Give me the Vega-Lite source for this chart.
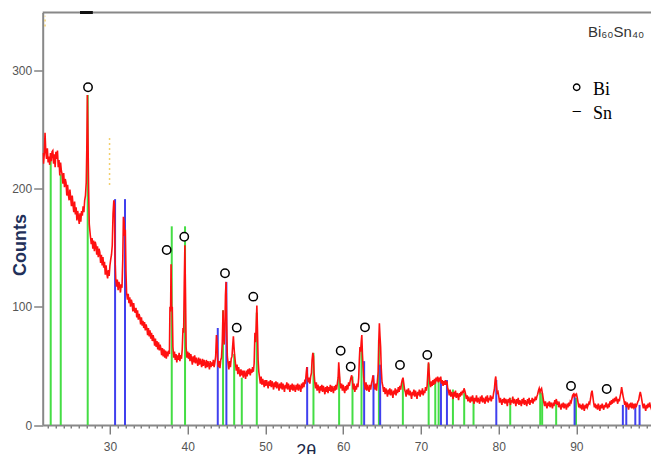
{
"$schema": "https://vega.github.io/schema/vega-lite/v6.json",
"width": 608.3,
"height": 412.5,
"autosize": {"type": "none"},
"padding": {"left": 42.7, "top": 12.5, "right": 0, "bottom": 29},
"config": {"view": {"stroke": null}, "font": "Liberation Sans"},
"datasets": {
"xrd": [
{"t":21.35,"c":230},{"t":21.45,"c":221},{"t":21.55,"c":229},{"t":21.65,"c":247},{"t":21.75,"c":231},{"t":21.85,"c":225},{"t":21.95,"c":234},{"t":22.05,"c":222},{"t":22.15,"c":227},{"t":22.25,"c":220},{"t":22.35,"c":230},{"t":22.45,"c":223},{"t":22.55,"c":231},{"t":22.65,"c":232},{"t":22.75,"c":221},{"t":22.85,"c":229},{"t":22.95,"c":218},{"t":23.05,"c":231},{"t":23.15,"c":225},{"t":23.25,"c":232},{"t":23.35,"c":218},{"t":23.45,"c":224},{"t":23.55,"c":211},{"t":23.65,"c":222},{"t":23.75,"c":215},{"t":23.85,"c":212},{"t":23.95,"c":204},{"t":24.05,"c":213},{"t":24.15,"c":201},{"t":24.25,"c":208},{"t":24.35,"c":205},{"t":24.45,"c":194},{"t":24.55,"c":203},{"t":24.65,"c":195},{"t":24.75,"c":190},{"t":24.85,"c":199},{"t":24.95,"c":192},{"t":25.05,"c":185},{"t":25.15,"c":194},{"t":25.25,"c":186},{"t":25.35,"c":180},{"t":25.45,"c":189},{"t":25.55,"c":178},{"t":25.65,"c":184},{"t":25.75,"c":173},{"t":25.85,"c":181},{"t":25.95,"c":176},{"t":26.05,"c":170},{"t":26.15,"c":179},{"t":26.25,"c":172},{"t":26.35,"c":181},{"t":26.45,"c":177},{"t":26.55,"c":185},{"t":26.65,"c":180},{"t":26.75,"c":190},{"t":26.85,"c":194},{"t":26.95,"c":205},{"t":27.02,"c":232},{"t":27.1,"c":279},{"t":27.18,"c":240},{"t":27.26,"c":199},{"t":27.34,"c":170},{"t":27.42,"c":164},{"t":27.5,"c":159},{"t":27.6,"c":153},{"t":27.7,"c":158},{"t":27.8,"c":149},{"t":27.9,"c":156},{"t":28.0,"c":147},{"t":28.1,"c":155},{"t":28.2,"c":152},{"t":28.3,"c":144},{"t":28.4,"c":151},{"t":28.5,"c":142},{"t":28.6,"c":149},{"t":28.7,"c":146},{"t":28.8,"c":137},{"t":28.9,"c":144},{"t":29.0,"c":135},{"t":29.1,"c":142},{"t":29.2,"c":133},{"t":29.3,"c":138},{"t":29.4,"c":127},{"t":29.5,"c":135},{"t":29.6,"c":128},{"t":29.7,"c":124},{"t":29.8,"c":131},{"t":29.9,"c":126},{"t":30.0,"c":135},{"t":30.1,"c":140},{"t":30.2,"c":144},{"t":30.3,"c":152},{"t":30.4,"c":179},{"t":30.5,"c":190},{"t":30.58,"c":186},{"t":30.66,"c":140},{"t":30.74,"c":124},{"t":30.85,"c":117},{"t":30.95,"c":123},{"t":31.05,"c":114},{"t":31.15,"c":121},{"t":31.25,"c":118},{"t":31.35,"c":112},{"t":31.45,"c":119},{"t":31.55,"c":116},{"t":31.65,"c":140},{"t":31.73,"c":176},{"t":31.82,"c":172},{"t":31.9,"c":160},{"t":31.98,"c":165},{"t":32.06,"c":130},{"t":32.14,"c":112},{"t":32.25,"c":106},{"t":32.35,"c":111},{"t":32.45,"c":103},{"t":32.55,"c":108},{"t":32.65,"c":100},{"t":32.75,"c":106},{"t":32.85,"c":103},{"t":32.95,"c":96},{"t":33.05,"c":103},{"t":33.15,"c":97},{"t":33.25,"c":95},{"t":33.35,"c":99},{"t":33.45,"c":91},{"t":33.55,"c":97},{"t":33.65,"c":89},{"t":33.75,"c":94},{"t":33.85,"c":91},{"t":33.95,"c":85},{"t":34.05,"c":91},{"t":34.15,"c":84},{"t":34.25,"c":88},{"t":34.35,"c":82},{"t":34.45,"c":87},{"t":34.55,"c":80},{"t":34.65,"c":85},{"t":34.75,"c":82},{"t":34.85,"c":76},{"t":34.95,"c":82},{"t":35.05,"c":75},{"t":35.15,"c":80},{"t":35.25,"c":73},{"t":35.35,"c":78},{"t":35.45,"c":71},{"t":35.55,"c":76},{"t":35.65,"c":73},{"t":35.75,"c":67},{"t":35.85,"c":73},{"t":35.95,"c":66},{"t":36.05,"c":71},{"t":36.15,"c":64},{"t":36.25,"c":70},{"t":36.35,"c":63},{"t":36.45,"c":68},{"t":36.55,"c":65},{"t":36.65,"c":59},{"t":36.75,"c":65},{"t":36.85,"c":58},{"t":36.95,"c":64},{"t":37.05,"c":57},{"t":37.15,"c":63},{"t":37.25,"c":56},{"t":37.35,"c":62},{"t":37.45,"c":58},{"t":37.55,"c":63},{"t":37.65,"c":60},{"t":37.72,"c":100},{"t":37.8,"c":96},{"t":37.86,"c":136},{"t":37.94,"c":98},{"t":38.02,"c":100},{"t":38.1,"c":66},{"t":38.2,"c":57},{"t":38.3,"c":62},{"t":38.4,"c":55},{"t":38.5,"c":60},{"t":38.6,"c":53},{"t":38.7,"c":59},{"t":38.8,"c":55},{"t":38.9,"c":61},{"t":39.0,"c":54},{"t":39.1,"c":59},{"t":39.2,"c":56},{"t":39.3,"c":64},{"t":39.4,"c":82},{"t":39.48,"c":78},{"t":39.56,"c":120},{"t":39.64,"c":152},{"t":39.72,"c":110},{"t":39.8,"c":66},{"t":39.9,"c":57},{"t":40.0,"c":62},{"t":40.1,"c":56},{"t":40.2,"c":61},{"t":40.3,"c":54},{"t":40.4,"c":60},{"t":40.5,"c":56},{"t":40.6,"c":51},{"t":40.7,"c":58},{"t":40.8,"c":53},{"t":40.9,"c":59},{"t":41.0,"c":52},{"t":41.1,"c":57},{"t":41.2,"c":54},{"t":41.3,"c":50},{"t":41.4,"c":57},{"t":41.5,"c":51},{"t":41.6,"c":56},{"t":41.7,"c":53},{"t":41.8,"c":49},{"t":41.9,"c":56},{"t":42.0,"c":50},{"t":42.1,"c":55},{"t":42.2,"c":52},{"t":42.3,"c":48},{"t":42.4,"c":55},{"t":42.5,"c":49},{"t":42.6,"c":54},{"t":42.7,"c":51},{"t":42.8,"c":47},{"t":42.9,"c":54},{"t":43.0,"c":49},{"t":43.1,"c":53},{"t":43.2,"c":50},{"t":43.3,"c":55},{"t":43.4,"c":49},{"t":43.5,"c":53},{"t":43.6,"c":58},{"t":43.7,"c":76},{"t":43.78,"c":70},{"t":43.86,"c":55},{"t":43.95,"c":49},{"t":44.05,"c":54},{"t":44.15,"c":48},{"t":44.25,"c":55},{"t":44.35,"c":57},{"t":44.45,"c":70},{"t":44.55,"c":97},{"t":44.63,"c":75},{"t":44.7,"c":68},{"t":44.78,"c":80},{"t":44.86,"c":110},{"t":44.94,"c":121},{"t":45.02,"c":85},{"t":45.1,"c":58},{"t":45.2,"c":52},{"t":45.3,"c":47},{"t":45.4,"c":54},{"t":45.5,"c":49},{"t":45.6,"c":56},{"t":45.7,"c":58},{"t":45.8,"c":68},{"t":45.88,"c":75},{"t":45.96,"c":66},{"t":46.05,"c":58},{"t":46.15,"c":52},{"t":46.25,"c":46},{"t":46.35,"c":51},{"t":46.45,"c":43},{"t":46.55,"c":49},{"t":46.65,"c":45},{"t":46.75,"c":41},{"t":46.85,"c":47},{"t":46.95,"c":42},{"t":47.05,"c":46},{"t":47.15,"c":40},{"t":47.25,"c":46},{"t":47.35,"c":43},{"t":47.45,"c":39},{"t":47.55,"c":46},{"t":47.65,"c":41},{"t":47.75,"c":47},{"t":47.85,"c":43},{"t":47.95,"c":48},{"t":48.05,"c":42},{"t":48.15,"c":47},{"t":48.25,"c":44},{"t":48.35,"c":49},{"t":48.45,"c":45},{"t":48.55,"c":52},{"t":48.65,"c":78},{"t":48.74,"c":70},{"t":48.82,"c":86},{"t":48.9,"c":101},{"t":48.98,"c":80},{"t":49.06,"c":55},{"t":49.15,"c":45},{"t":49.25,"c":40},{"t":49.35,"c":35},{"t":49.45,"c":41},{"t":49.55,"c":34},{"t":49.65,"c":39},{"t":49.75,"c":36},{"t":49.85,"c":32},{"t":49.95,"c":38},{"t":50.05,"c":33},{"t":50.15,"c":38},{"t":50.25,"c":35},{"t":50.35,"c":31},{"t":50.45,"c":37},{"t":50.55,"c":33},{"t":50.65,"c":38},{"t":50.75,"c":32},{"t":50.85,"c":37},{"t":50.95,"c":34},{"t":51.05,"c":30},{"t":51.15,"c":36},{"t":51.25,"c":32},{"t":51.35,"c":37},{"t":51.45,"c":31},{"t":51.55,"c":36},{"t":51.65,"c":33},{"t":51.75,"c":29},{"t":51.85,"c":35},{"t":51.95,"c":31},{"t":52.05,"c":36},{"t":52.15,"c":30},{"t":52.25,"c":35},{"t":52.35,"c":32},{"t":52.45,"c":28},{"t":52.55,"c":34},{"t":52.65,"c":31},{"t":52.75,"c":36},{"t":52.85,"c":30},{"t":52.95,"c":35},{"t":53.05,"c":32},{"t":53.15,"c":28},{"t":53.25,"c":34},{"t":53.35,"c":30},{"t":53.45,"c":35},{"t":53.55,"c":29},{"t":53.65,"c":34},{"t":53.75,"c":31},{"t":53.85,"c":28},{"t":53.95,"c":34},{"t":54.05,"c":30},{"t":54.15,"c":35},{"t":54.25,"c":29},{"t":54.35,"c":34},{"t":54.45,"c":32},{"t":54.55,"c":28},{"t":54.65,"c":35},{"t":54.75,"c":31},{"t":54.85,"c":36},{"t":54.95,"c":32},{"t":55.05,"c":37},{"t":55.15,"c":36},{"t":55.25,"c":44},{"t":55.33,"c":49},{"t":55.42,"c":40},{"t":55.52,"c":36},{"t":55.62,"c":40},{"t":55.72,"c":35},{"t":55.82,"c":41},{"t":55.92,"c":44},{"t":56.0,"c":55},{"t":56.1,"c":61},{"t":56.18,"c":58},{"t":56.26,"c":44},{"t":56.35,"c":36},{"t":56.45,"c":31},{"t":56.55,"c":36},{"t":56.65,"c":29},{"t":56.75,"c":34},{"t":56.85,"c":31},{"t":56.95,"c":27},{"t":57.05,"c":33},{"t":57.15,"c":29},{"t":57.25,"c":34},{"t":57.35,"c":28},{"t":57.45,"c":33},{"t":57.55,"c":30},{"t":57.65,"c":26},{"t":57.75,"c":32},{"t":57.85,"c":28},{"t":57.95,"c":33},{"t":58.05,"c":27},{"t":58.15,"c":32},{"t":58.25,"c":29},{"t":58.35,"c":34},{"t":58.45,"c":28},{"t":58.55,"c":33},{"t":58.65,"c":30},{"t":58.75,"c":27},{"t":58.85,"c":33},{"t":58.95,"c":29},{"t":59.05,"c":34},{"t":59.15,"c":30},{"t":59.25,"c":35},{"t":59.35,"c":40},{"t":59.43,"c":53},{"t":59.52,"c":44},{"t":59.6,"c":36},{"t":59.7,"c":31},{"t":59.8,"c":35},{"t":59.9,"c":29},{"t":60.0,"c":34},{"t":60.1,"c":30},{"t":60.2,"c":27},{"t":60.3,"c":33},{"t":60.4,"c":29},{"t":60.5,"c":34},{"t":60.6,"c":30},{"t":60.7,"c":36},{"t":60.8,"c":33},{"t":60.9,"c":37},{"t":61.0,"c":40},{"t":61.1,"c":42},{"t":61.2,"c":37},{"t":61.3,"c":30},{"t":61.4,"c":35},{"t":61.5,"c":28},{"t":61.6,"c":33},{"t":61.7,"c":30},{"t":61.8,"c":35},{"t":61.9,"c":32},{"t":62.0,"c":40},{"t":62.08,"c":55},{"t":62.16,"c":66},{"t":62.24,"c":62},{"t":62.32,"c":70},{"t":62.4,"c":76},{"t":62.48,"c":60},{"t":62.56,"c":49},{"t":62.64,"c":40},{"t":62.74,"c":35},{"t":62.84,"c":30},{"t":62.94,"c":36},{"t":63.04,"c":29},{"t":63.14,"c":34},{"t":63.24,"c":31},{"t":63.34,"c":28},{"t":63.44,"c":34},{"t":63.54,"c":30},{"t":63.64,"c":35},{"t":63.74,"c":38},{"t":63.84,"c":42},{"t":63.92,"c":37},{"t":64.0,"c":32},{"t":64.1,"c":30},{"t":64.2,"c":35},{"t":64.3,"c":29},{"t":64.4,"c":37},{"t":64.5,"c":45},{"t":64.58,"c":70},{"t":64.66,"c":86},{"t":64.74,"c":75},{"t":64.82,"c":66},{"t":64.9,"c":48},{"t":65.0,"c":36},{"t":65.1,"c":33},{"t":65.2,"c":28},{"t":65.3,"c":32},{"t":65.4,"c":26},{"t":65.5,"c":31},{"t":65.6,"c":28},{"t":65.7,"c":24},{"t":65.8,"c":30},{"t":65.9,"c":26},{"t":66.0,"c":31},{"t":66.1,"c":25},{"t":66.2,"c":30},{"t":66.3,"c":27},{"t":66.4,"c":23},{"t":66.5,"c":29},{"t":66.6,"c":26},{"t":66.7,"c":31},{"t":66.8,"c":25},{"t":66.9,"c":30},{"t":67.0,"c":27},{"t":67.1,"c":32},{"t":67.2,"c":28},{"t":67.3,"c":33},{"t":67.4,"c":30},{"t":67.5,"c":35},{"t":67.6,"c":38},{"t":67.7,"c":40},{"t":67.8,"c":35},{"t":67.9,"c":30},{"t":68.0,"c":28},{"t":68.1,"c":24},{"t":68.2,"c":30},{"t":68.3,"c":26},{"t":68.4,"c":31},{"t":68.5,"c":25},{"t":68.6,"c":29},{"t":68.7,"c":26},{"t":68.8,"c":22},{"t":68.9,"c":28},{"t":69.0,"c":25},{"t":69.1,"c":30},{"t":69.2,"c":24},{"t":69.3,"c":29},{"t":69.4,"c":26},{"t":69.5,"c":22},{"t":69.6,"c":28},{"t":69.7,"c":25},{"t":69.8,"c":30},{"t":69.9,"c":24},{"t":70.0,"c":29},{"t":70.1,"c":26},{"t":70.2,"c":31},{"t":70.3,"c":25},{"t":70.4,"c":29},{"t":70.5,"c":27},{"t":70.6,"c":32},{"t":70.7,"c":29},{"t":70.8,"c":33},{"t":70.9,"c":45},{"t":70.98,"c":53},{"t":71.06,"c":44},{"t":71.15,"c":35},{"t":71.25,"c":32},{"t":71.35,"c":37},{"t":71.45,"c":33},{"t":71.55,"c":38},{"t":71.65,"c":34},{"t":71.75,"c":39},{"t":71.85,"c":35},{"t":71.95,"c":40},{"t":72.05,"c":37},{"t":72.15,"c":41},{"t":72.25,"c":36},{"t":72.35,"c":40},{"t":72.45,"c":37},{"t":72.55,"c":41},{"t":72.65,"c":35},{"t":72.75,"c":38},{"t":72.85,"c":33},{"t":72.95,"c":37},{"t":73.05,"c":34},{"t":73.15,"c":38},{"t":73.25,"c":34},{"t":73.35,"c":37},{"t":73.45,"c":31},{"t":73.55,"c":29},{"t":73.65,"c":25},{"t":73.75,"c":30},{"t":73.85,"c":24},{"t":73.95,"c":28},{"t":74.05,"c":25},{"t":74.15,"c":22},{"t":74.25,"c":28},{"t":74.35,"c":24},{"t":74.45,"c":29},{"t":74.55,"c":23},{"t":74.65,"c":27},{"t":74.75,"c":25},{"t":74.85,"c":21},{"t":74.95,"c":27},{"t":75.05,"c":24},{"t":75.15,"c":28},{"t":75.25,"c":25},{"t":75.35,"c":29},{"t":75.45,"c":27},{"t":75.55,"c":31},{"t":75.65,"c":29},{"t":75.75,"c":26},{"t":75.85,"c":22},{"t":75.95,"c":25},{"t":76.05,"c":20},{"t":76.15,"c":24},{"t":76.25,"c":21},{"t":76.35,"c":19},{"t":76.45,"c":24},{"t":76.55,"c":20},{"t":76.65,"c":25},{"t":76.75,"c":21},{"t":76.85,"c":18},{"t":76.95,"c":23},{"t":77.05,"c":20},{"t":77.15,"c":25},{"t":77.25,"c":19},{"t":77.35,"c":23},{"t":77.45,"c":21},{"t":77.55,"c":18},{"t":77.65,"c":24},{"t":77.75,"c":20},{"t":77.85,"c":25},{"t":77.95,"c":19},{"t":78.05,"c":23},{"t":78.15,"c":21},{"t":78.25,"c":18},{"t":78.35,"c":24},{"t":78.45,"c":20},{"t":78.55,"c":25},{"t":78.65,"c":19},{"t":78.75,"c":23},{"t":78.85,"c":21},{"t":78.95,"c":25},{"t":79.05,"c":20},{"t":79.15,"c":24},{"t":79.25,"c":22},{"t":79.35,"c":27},{"t":79.45,"c":30},{"t":79.55,"c":38},{"t":79.63,"c":41},{"t":79.72,"c":33},{"t":79.82,"c":27},{"t":79.92,"c":28},{"t":80.02,"c":24},{"t":80.12,"c":19},{"t":80.22,"c":23},{"t":80.32,"c":20},{"t":80.42,"c":17},{"t":80.52,"c":22},{"t":80.62,"c":19},{"t":80.72,"c":23},{"t":80.82,"c":18},{"t":80.92,"c":22},{"t":81.02,"c":20},{"t":81.12,"c":16},{"t":81.22,"c":22},{"t":81.32,"c":19},{"t":81.42,"c":23},{"t":81.52,"c":17},{"t":81.62,"c":21},{"t":81.72,"c":19},{"t":81.82,"c":24},{"t":81.92,"c":18},{"t":82.02,"c":22},{"t":82.12,"c":20},{"t":82.22,"c":16},{"t":82.32,"c":22},{"t":82.42,"c":18},{"t":82.52,"c":23},{"t":82.62,"c":17},{"t":82.72,"c":21},{"t":82.82,"c":19},{"t":82.92,"c":16},{"t":83.02,"c":22},{"t":83.12,"c":18},{"t":83.22,"c":23},{"t":83.32,"c":17},{"t":83.42,"c":21},{"t":83.52,"c":19},{"t":83.62,"c":16},{"t":83.72,"c":22},{"t":83.82,"c":18},{"t":83.92,"c":23},{"t":84.02,"c":17},{"t":84.12,"c":21},{"t":84.22,"c":19},{"t":84.32,"c":23},{"t":84.42,"c":18},{"t":84.52,"c":22},{"t":84.62,"c":20},{"t":84.72,"c":24},{"t":84.82,"c":21},{"t":84.92,"c":24},{"t":85.02,"c":26},{"t":85.12,"c":29},{"t":85.22,"c":31},{"t":85.32,"c":28},{"t":85.42,"c":30},{"t":85.52,"c":31},{"t":85.62,"c":27},{"t":85.72,"c":23},{"t":85.82,"c":19},{"t":85.92,"c":16},{"t":86.02,"c":20},{"t":86.12,"c":17},{"t":86.22,"c":14},{"t":86.32,"c":19},{"t":86.42,"c":16},{"t":86.52,"c":20},{"t":86.62,"c":15},{"t":86.72,"c":19},{"t":86.82,"c":17},{"t":86.92,"c":14},{"t":87.02,"c":19},{"t":87.12,"c":16},{"t":87.22,"c":21},{"t":87.32,"c":18},{"t":87.42,"c":22},{"t":87.52,"c":17},{"t":87.62,"c":20},{"t":87.72,"c":15},{"t":87.82,"c":18},{"t":87.92,"c":16},{"t":88.02,"c":13},{"t":88.12,"c":18},{"t":88.22,"c":15},{"t":88.32,"c":19},{"t":88.42,"c":14},{"t":88.52,"c":18},{"t":88.62,"c":16},{"t":88.72,"c":13},{"t":88.82,"c":18},{"t":88.92,"c":15},{"t":89.02,"c":19},{"t":89.12,"c":16},{"t":89.22,"c":20},{"t":89.32,"c":19},{"t":89.42,"c":22},{"t":89.52,"c":25},{"t":89.62,"c":26},{"t":89.72,"c":24},{"t":89.82,"c":26},{"t":89.92,"c":25},{"t":90.02,"c":26},{"t":90.12,"c":23},{"t":90.22,"c":19},{"t":90.32,"c":15},{"t":90.42,"c":18},{"t":90.52,"c":14},{"t":90.62,"c":17},{"t":90.72,"c":13},{"t":90.82,"c":18},{"t":90.92,"c":15},{"t":91.02,"c":12},{"t":91.12,"c":17},{"t":91.22,"c":14},{"t":91.32,"c":18},{"t":91.42,"c":15},{"t":91.52,"c":17},{"t":91.62,"c":19},{"t":91.72,"c":18},{"t":91.82,"c":22},{"t":91.92,"c":27},{"t":92.02,"c":29},{"t":92.12,"c":24},{"t":92.22,"c":19},{"t":92.32,"c":15},{"t":92.42,"c":18},{"t":92.52,"c":14},{"t":92.62,"c":17},{"t":92.72,"c":13},{"t":92.82,"c":18},{"t":92.92,"c":15},{"t":93.02,"c":12},{"t":93.12,"c":17},{"t":93.22,"c":14},{"t":93.32,"c":18},{"t":93.42,"c":15},{"t":93.52,"c":13},{"t":93.62,"c":17},{"t":93.72,"c":15},{"t":93.82,"c":19},{"t":93.92,"c":16},{"t":94.02,"c":14},{"t":94.12,"c":18},{"t":94.22,"c":15},{"t":94.32,"c":20},{"t":94.42,"c":17},{"t":94.52,"c":21},{"t":94.62,"c":18},{"t":94.72,"c":22},{"t":94.82,"c":19},{"t":94.92,"c":23},{"t":95.02,"c":20},{"t":95.12,"c":24},{"t":95.22,"c":21},{"t":95.32,"c":18},{"t":95.42,"c":22},{"t":95.52,"c":20},{"t":95.62,"c":24},{"t":95.72,"c":27},{"t":95.82,"c":32},{"t":95.92,"c":28},{"t":96.02,"c":24},{"t":96.12,"c":21},{"t":96.22,"c":17},{"t":96.32,"c":20},{"t":96.42,"c":15},{"t":96.52,"c":19},{"t":96.62,"c":16},{"t":96.72,"c":13},{"t":96.82,"c":18},{"t":96.92,"c":15},{"t":97.02,"c":19},{"t":97.12,"c":14},{"t":97.22,"c":17},{"t":97.32,"c":15},{"t":97.42,"c":18},{"t":97.52,"c":14},{"t":97.62,"c":17},{"t":97.72,"c":16},{"t":97.82,"c":18},{"t":97.92,"c":20},{"t":98.02,"c":21},{"t":98.12,"c":25},{"t":98.22,"c":28},{"t":98.32,"c":25},{"t":98.42,"c":21},{"t":98.52,"c":17},{"t":98.62,"c":14},{"t":98.72,"c":18},{"t":98.82,"c":15},{"t":98.92,"c":12},{"t":99.02,"c":17},{"t":99.12,"c":14},{"t":99.22,"c":18},{"t":99.32,"c":15},{"t":99.42,"c":19},{"t":99.52,"c":16},{"t":99.62,"c":14},{"t":99.72,"c":17}
],
"refs": [
{"phase":"Bi","t":22.38,"h":226},{"phase":"Bi","t":23.67,"h":212},{"phase":"Bi","t":27.14,"h":279},{"phase":"Bi","t":37.95,"h":168},{"phase":"Bi","t":39.66,"h":168},{"phase":"Bi","t":44.55,"h":97},{"phase":"Bi","t":45.98,"h":60},{"phase":"Bi","t":46.96,"h":40},{"phase":"Bi","t":48.89,"h":95},{"phase":"Bi","t":56.18,"h":61},{"phase":"Bi","t":59.48,"h":41},{"phase":"Bi","t":61.2,"h":41},{"phase":"Bi","t":62.36,"h":66},{"phase":"Bi","t":64.6,"h":72},{"phase":"Bi","t":67.68,"h":38},{"phase":"Bi","t":71.0,"h":52},{"phase":"Bi","t":71.85,"h":37},{"phase":"Bi","t":72.28,"h":39},{"phase":"Bi","t":74.12,"h":30},{"phase":"Bi","t":75.57,"h":27},{"phase":"Bi","t":76.77,"h":23},{"phase":"Bi","t":81.49,"h":23},{"phase":"Bi","t":85.35,"h":28},{"phase":"Bi","t":85.6,"h":27},{"phase":"Bi","t":87.4,"h":21},{"phase":"Bi","t":89.95,"h":23},
{"phase":"Sn","t":30.66,"h":191},{"phase":"Sn","t":31.94,"h":191},{"phase":"Sn","t":43.87,"h":82},{"phase":"Sn","t":44.98,"h":121},{"phase":"Sn","t":55.37,"h":49},{"phase":"Sn","t":62.7,"h":54},{"phase":"Sn","t":63.9,"h":42},{"phase":"Sn","t":64.76,"h":51},{"phase":"Sn","t":72.58,"h":38},{"phase":"Sn","t":73.35,"h":38},{"phase":"Sn","t":79.7,"h":38},{"phase":"Sn","t":89.77,"h":24},{"phase":"Sn","t":95.98,"h":17},{"phase":"Sn","t":96.42,"h":18},{"phase":"Sn","t":97.58,"h":15},{"phase":"Sn","t":98.13,"h":17}
],
"bimarks": [
{"t":27.18,"c":285.6},{"t":37.3,"c":148},{"t":39.56,"c":159.2},{"t":44.8,"c":128.3},{"t":46.31,"c":82.3},{"t":48.44,"c":108.5},{"t":59.68,"c":62.8},{"t":60.97,"c":49.3},{"t":62.81,"c":82.6},{"t":67.31,"c":50.7},{"t":70.82,"c":59.2},{"t":89.31,"c":33},{"t":93.9,"c":30.4}
],
"faint": [{"t":21.65,"c1":337,"c2":346},{"t":29.95,"c1":203,"c2":245}],
"topbar": [{"t1":26.15,"t2":27.8,"c":348.8}],
"legcircle": [{"t":90.04,"c":285.6}],
"legdash": [{"t":90.04,"c":266,"txt":"–"}],
"legtext": [{"t":92.14,"c":279,"txt":"Bi"},{"t":92.14,"c":258.8,"txt":"Sn"}],
"sample": [{"t":91.49,"c":328,"txt":"Bi₆₀Sn₄₀"}]
},
"layer": [
{
"data": {"name": "faint"},
"mark": {"type": "rule", "color": "#f2cf6e", "strokeWidth": 1.5, "strokeDash": [2, 3]},
"encoding": {
"x": {"field": "t", "type": "quantitative", "scale": {"domain": [21.35, 99.6], "nice": false, "zero": false}, "axis": null},
"y": {"field": "c1", "type": "quantitative", "scale": {"domain": [0, 348.8], "nice": false}, "axis": null},
"y2": {"field": "c2"}
}
},
{
"data": {"name": "refs"},
"mark": {"type": "rule", "strokeWidth": 2},
"encoding": {
"x": {"field": "t", "type": "quantitative", "axis": {"orient": "bottom", "values": [22,23,24,25,26,27,28,29,31,32,33,34,35,36,37,38,39,41,42,43,44,45,46,47,48,49,51,52,53,54,55,56,57,58,59,61,62,63,64,65,66,67,68,69,71,72,73,74,75,76,77,78,79,81,82,83,84,85,86,87,88,89,91,92,93,94,95,96,97,98,99], "labels": false, "domain": false, "grid": false, "ticks": true, "tickSize": 3, "tickColor": "#444", "tickWidth": 1, "title": null}},
"y": {"field": "h", "type": "quantitative", "axis": null},
"y2": {"datum": 0},
"color": {"field": "phase", "type": "nominal", "scale": {"domain": ["Bi", "Sn"], "range": ["#44dd44", "#4040ee"]}, "legend": null}
}
},
{
"data": {"name": "xrd"},
"mark": {"type": "line", "color": "#ff1010", "strokeWidth": 1.6, "clip": true},
"encoding": {
"x": {"field": "t", "type": "quantitative", "axis": {"orient": "bottom", "values": [30,40,50,60,70,80,90], "grid": false, "domainColor": "#888", "domainWidth": 2, "tickColor": "#444", "tickSize": 9, "tickWidth": 1, "labelColor": "#555", "labelFontSize": 12, "labelPadding": 7, "title": "2θ", "titleFontSize": 18, "titleFontWeight": "normal", "titleColor": "#1c2a4a", "titleX": 263, "titleY": 17, "titleAlign": "center", "titleBaseline": "top"}},
"y": {"field": "c", "type": "quantitative", "axis": {"orient": "left", "values": [0,100,200,300], "grid": false, "domainColor": "#888", "domainWidth": 2, "tickColor": "#444", "tickSize": 9, "tickWidth": 1, "labelColor": "#555", "labelFontSize": 12, "labelPadding": 2, "title": "Counts", "titleFontSize": 18, "titleFontWeight": "bold", "titleColor": "#22305a", "titleX": -22, "titleY": 232, "titleAngle": 270, "titleAlign": "center", "titleBaseline": "middle"}}
}
},
{
"data": {"name": "topbar"},
"mark": {"type": "rule", "color": "#888", "strokeWidth": 2},
"encoding": {"y": {"field": "c", "type": "quantitative", "axis": null}}
},
{
"data": {"name": "topbar"},
"mark": {"type": "rule", "color": "#111", "strokeWidth": 3},
"encoding": {"x": {"field": "t1", "type": "quantitative", "axis": null}, "x2": {"field": "t2"}, "y": {"field": "c", "type": "quantitative", "axis": null}}
},
{
"data": {"name": "bimarks"},
"mark": {"type": "point", "shape": "circle", "size": 70, "filled": true, "fill": "white", "stroke": "black", "strokeWidth": 1.5, "opacity": 1},
"encoding": {"x": {"field": "t", "type": "quantitative", "axis": null}, "y": {"field": "c", "type": "quantitative", "axis": null}}
},
{
"data": {"name": "legcircle"},
"mark": {"type": "point", "shape": "circle", "size": 42, "filled": true, "fill": "white", "stroke": "black", "strokeWidth": 1.3, "opacity": 1},
"encoding": {"x": {"field": "t", "type": "quantitative", "axis": null}, "y": {"field": "c", "type": "quantitative", "axis": null}}
},
{
"data": {"name": "legdash"},
"mark": {"type": "text", "font": "Liberation Serif", "fontSize": 16, "align": "center", "baseline": "middle", "color": "black"},
"encoding": {"x": {"field": "t", "type": "quantitative", "axis": null}, "y": {"field": "c", "type": "quantitative", "axis": null}, "text": {"field": "txt"}}
},
{
"data": {"name": "legtext"},
"mark": {"type": "text", "font": "Liberation Serif", "fontSize": 18, "align": "left", "baseline": "alphabetic", "color": "black"},
"encoding": {"x": {"field": "t", "type": "quantitative", "axis": null}, "y": {"field": "c", "type": "quantitative", "axis": null}, "text": {"field": "txt"}}
},
{
"data": {"name": "sample"},
"mark": {"type": "text", "font": "Liberation Sans", "fontSize": 15, "align": "left", "baseline": "alphabetic", "color": "#333"},
"encoding": {"x": {"field": "t", "type": "quantitative", "axis": null}, "y": {"field": "c", "type": "quantitative", "axis": null}, "text": {"field": "txt"}}
}
],
"resolve": {"axis": {"x": "independent", "y": "independent"}}
}
